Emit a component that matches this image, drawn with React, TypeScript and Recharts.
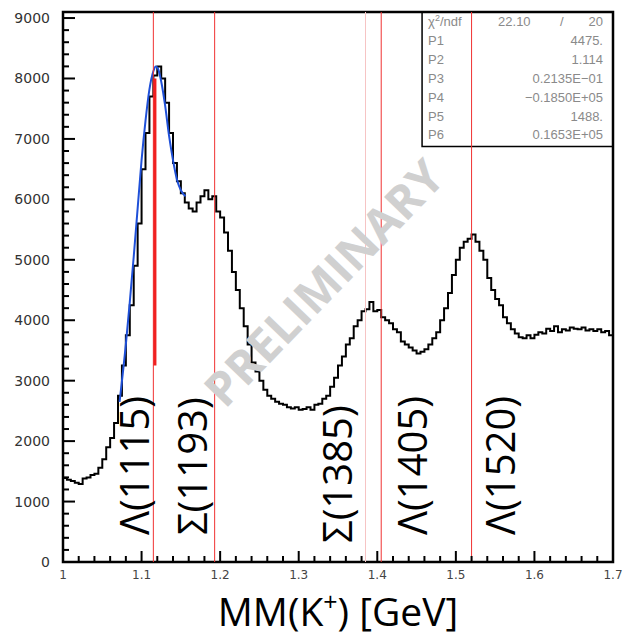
import React from "react";
import {
  ComposedChart,
  Line,
  XAxis,
  YAxis,
  ReferenceLine,
  ReferenceArea,
  ReferenceDot,
} from "recharts";

// ---------------- data ----------------
const BIN_LOW = 1.0;
const BIN_WIDTH = 0.005;
const HIST_COUNTS = [
  1390, 1360, 1340, 1310, 1290, 1380, 1400, 1440, 1460, 1560,
  1700, 1900, 2050, 2300, 2750, 3250, 3750, 4250, 4900, 5600,
  6500, 7100, 7700, 8050, 8200, 8000, 7600, 7100, 6600, 6300,
  6100, 5950, 5850, 5800, 5950, 6050, 6150, 6000, 6050, 5800,
  5700, 5450, 5150, 4800, 4500, 4200, 3900, 3600, 3300, 3150,
  3000, 2850, 2750, 2700, 2650, 2620, 2600, 2560, 2540, 2560,
  2520, 2530, 2560, 2520, 2600, 2620, 2700, 2750, 2900, 3050,
  3250, 3400, 3600, 3700, 3900, 4000, 4150, 4180, 4300, 4150,
  4170, 4050, 4000, 3950, 3850, 3800, 3650, 3600, 3550, 3500,
  3450, 3480, 3520, 3600, 3700, 3800, 4000, 4200, 4450, 4750,
  5000, 5200, 5300, 5350, 5420, 5300, 5150, 5000, 4700, 4500,
  4350, 4250, 4050, 3950, 3850, 3780, 3720, 3700, 3750, 3700,
  3760, 3800, 3780, 3860, 3820, 3900, 3800, 3850, 3830, 3880,
  3860, 3850, 3880, 3830, 3850, 3820, 3850, 3800, 3820, 3750,
];

const FIT_MASS = [1.072, 1.08, 1.085, 1.09, 1.095, 1.1, 1.105, 1.11, 1.115, 1.118, 1.121, 1.125, 1.13, 1.135, 1.14, 1.145, 1.15, 1.156];
const FIT_COUNTS = [2650, 3600, 4300, 5050, 5850, 6650, 7300, 7820, 8120, 8200, 8160, 7950, 7550, 7050, 6650, 6330, 6150, 6050];

const X_TICKS = [
  1, 1.02, 1.04, 1.06, 1.08, 1.1, 1.12, 1.14, 1.16, 1.18, 1.2, 1.22, 1.24, 1.26, 1.28,
  1.3, 1.32, 1.34, 1.36, 1.38, 1.4, 1.42, 1.44, 1.46, 1.48, 1.5, 1.52, 1.54, 1.56, 1.58,
  1.6, 1.62, 1.64, 1.66, 1.68, 1.7,
];
const X_MAJOR = [1, 1.1, 1.2, 1.3, 1.4, 1.5, 1.6, 1.7];
const X_MAJOR_LABELS = ["1", "1.1", "1.2", "1.3", "1.4", "1.5", "1.6", "1.7"];
const Y_TICKS = [
  0, 200, 400, 600, 800, 1000, 1200, 1400, 1600, 1800, 2000, 2200, 2400, 2600, 2800,
  3000, 3200, 3400, 3600, 3800, 4000, 4200, 4400, 4600, 4800, 5000, 5200, 5400, 5600, 5800,
  6000, 6200, 6400, 6600, 6800, 7000, 7200, 7400, 7600, 7800, 8000, 8200, 8400, 8600, 8800, 9000,
];
const Y_MAJOR = [0, 1000, 2000, 3000, 4000, 5000, 6000, 7000, 8000, 9000];

const RESONANCE_MASSES = [1.115, 1.193, 1.385, 1.405, 1.52];
const RESONANCE_NAMES = ["Λ(1115)", "Σ(1193)", "Σ(1385)", "Λ(1405)", "Λ(1520)"];
const PEAK_MARK_MASS = 1.117;
const PEAK_MARK_RANGE = [3250, 8000];

const STATS_NAMES = ["P1", "P2", "P3", "P4", "P5", "P6"];
const STATS_VALUES = ["4475.", "1.114", "0.2135E\u221201", "\u22120.1850E+05", "1488.", "0.1653E+05"];
const CHI2_VALUE = "22.10";
const NDF_VALUE = "20";

// ---------------- layout ----------------
const CHART_W = 626;
const CHART_H = 643;
const MARGIN = { top: 12, right: 13, bottom: 51, left: 8 };
const Y_AXIS_W = 55;
const X_AXIS_H = 30;
const PLOT_LEFT = MARGIN.left + Y_AXIS_W;
const PLOT_BOTTOM = CHART_H - MARGIN.bottom - X_AXIS_H;
const Y_MAX = 9100;
const X_MIN = 1.0;
const X_MAX = 1.7;

// label anchors (data coords) for rotated resonance names
const NAME_ANCHOR_X = [1.1095, 1.1833, 1.3678, 1.4633, 1.5753];
const NAME_ANCHOR_Y = [446, 446, 314, 446, 446];
const WATERMARK_AT = { x: 1.331, y: 4628 };
const STATS_BOX = { x1: 1.457, x2: 1.7, y1: 6876, y2: Y_MAX };

const histData = HIST_COUNTS.map((c, i) => ({ x: BIN_LOW + i * BIN_WIDTH, y: c }));
histData.push({ x: X_MAX, y: HIST_COUNTS[HIST_COUNTS.length - 1] });
const fitData = FIT_MASS.map((m, i) => ({ x: m, y: FIT_COUNTS[i] }));

const XTick = (props: any) => {
  const { x, payload } = props;
  const v = payload.value;
  const idx = X_MAJOR.findIndex((m) => Math.abs(m - v) < 1e-6);
  const major = idx >= 0;
  return (
    <g>
      <line x1={x} x2={x} y1={PLOT_BOTTOM} y2={PLOT_BOTTOM - (major ? 11 : 6)} stroke="#000" strokeWidth={2} />
      {major && (
        <text x={x} y={PLOT_BOTTOM + 17} textAnchor="middle" fontSize={12} fill="#444" fontFamily="DejaVu Sans">
          {X_MAJOR_LABELS[idx]}
        </text>
      )}
    </g>
  );
};

const YTick = (props: any) => {
  const { y, payload } = props;
  const v = payload.value;
  const major = Y_MAJOR.includes(v);
  return (
    <g>
      <line x1={PLOT_LEFT} x2={PLOT_LEFT + (major ? 12 : 6)} y1={y} y2={y} stroke="#000" strokeWidth={2} />
      {major && (
        <text x={PLOT_LEFT - 13} y={y + 5} textAnchor="end" fontSize={14} fill="#333" fontFamily="DejaVu Sans">
          {String(v)}
        </text>
      )}
    </g>
  );
};

const centerOf = (vb: any) => ({
  x: (vb?.x ?? 0) + (vb?.width ?? 0) / 2,
  y: (vb?.y ?? 0) + (vb?.height ?? 0) / 2,
});

const makeNameLabel = (name: string) => (props: any) => {
  const c = centerOf(props.viewBox);
  return (
    <text
      x={c.x}
      y={c.y}
      transform={`rotate(-90 ${c.x} ${c.y})`}
      fontSize={40}
      fontFamily="Open Sans"
      fill="#000"
      textAnchor="start"
    >
      {name}
    </text>
  );
};

const WatermarkLabel = (props: any) => {
  const c = centerOf(props.viewBox);
  return (
    <text
      x={c.x}
      y={c.y}
      transform={`rotate(-46 ${c.x} ${c.y})`}
      fontSize={47}
      fontWeight={700}
      fontFamily="Open Sans"
      fill="#d0d0d0"
      textAnchor="middle"
      dominantBaseline="central"
    >
      PRELIMINARY
    </text>
  );
};

const StatsLabel = (props: any) => {
  const vb = props.viewBox || {};
  const left = vb.x + 6;
  const right = vb.x + vb.width - 10;
  const top = vb.y;
  const row = 18.9;
  const style = { fontSize: 13, fontFamily: "Liberation Sans", fill: "#8a8a8a" } as any;
  return (
    <g>
      <text x={left} y={top + 14} {...style}>
        χ<tspan dy={-5} fontSize={9}>2</tspan>
        <tspan dy={5}>/ndf</tspan>
      </text>
      <text x={vb.x + 76} y={top + 14} {...style}>{CHI2_VALUE}</text>
      <text x={vb.x + 138} y={top + 14} {...style}>/</text>
      <text x={right} y={top + 14} textAnchor="end" {...style}>{NDF_VALUE}</text>
      {STATS_NAMES.map((n, i) => (
        <g key={n}>
          <text x={left} y={top + 14 + row * (i + 1)} {...style}>{n}</text>
          <text x={right} y={top + 14 + row * (i + 1)} textAnchor="end" {...style}>{STATS_VALUES[i]}</text>
        </g>
      ))}
    </g>
  );
};

const TitleLabel = (props: any) => {
  const vb = props.viewBox || {};
  const cx = vb.x + vb.width / 2;
  const base = vb.y + 64;
  return (
    <text x={cx} y={base} textAnchor="middle" fontSize={39} fontFamily="Open Sans" fill="#000">
      <tspan>MM(K</tspan>
      <tspan dy={-15} fontSize={25}>+</tspan>
      <tspan dy={15}>) [GeV]</tspan>
    </text>
  );
};

export default function App() {
  return (
    <div style={{ position: "fixed", left: 0, top: 0, width: CHART_W, height: CHART_H, background: "#fff" }}>
      <ComposedChart width={CHART_W} height={CHART_H} margin={MARGIN}>
        <XAxis
          dataKey="x"
          type="number"
          domain={[X_MIN, X_MAX]}
          ticks={X_TICKS}
          interval={0}
          allowDataOverflow
          axisLine={false}
          tickLine={false}
          height={X_AXIS_H}
          tick={<XTick />}
          label={{ content: TitleLabel } as any}
        />
        <YAxis
          type="number"
          domain={[0, Y_MAX]}
          ticks={Y_TICKS}
          interval={0}
          allowDataOverflow
          axisLine={false}
          tickLine={false}
          width={Y_AXIS_W}
          tick={<YTick />}
        />
        <ReferenceDot
          x={WATERMARK_AT.x}
          y={WATERMARK_AT.y}
          r={1}
          fill="none"
          stroke="none"
          label={WatermarkLabel as any}
        />
        <ReferenceArea
          x1={STATS_BOX.x1}
          x2={STATS_BOX.x2}
          y1={STATS_BOX.y1}
          y2={STATS_BOX.y2}
          fill="#fff"
          fillOpacity={1}
          stroke="#000"
          strokeWidth={1.5}
          label={StatsLabel as any}
        />
        <Line
          data={histData}
          dataKey="y"
          type="stepAfter"
          stroke="#000"
          strokeWidth={2}
          dot={false}
          isAnimationActive={false}
        />
        <Line
          data={fitData}
          dataKey="y"
          type="monotone"
          stroke="#1f50d8"
          strokeWidth={2}
          dot={false}
          isAnimationActive={false}
        />
        {RESONANCE_MASSES.map((m, i) => (
          <ReferenceLine
            key={m}
            x={m}
            stroke={i === 2 ? "#f6c4c4" : "#f03232"}
            strokeWidth={1}
          />
        ))}
        <ReferenceLine
          segment={[
            { x: PEAK_MARK_MASS, y: PEAK_MARK_RANGE[0] },
            { x: PEAK_MARK_MASS, y: PEAK_MARK_RANGE[1] },
          ]}
          stroke="#f02020"
          strokeWidth={3}
        />
        {RESONANCE_NAMES.map((n, i) => (
          <ReferenceDot
            key={n}
            x={NAME_ANCHOR_X[i]}
            y={NAME_ANCHOR_Y[i]}
            r={1}
            fill="none"
            stroke="none"
            label={makeNameLabel(n) as any}
          />
        ))}
        <ReferenceArea
          x1={X_MIN}
          x2={X_MAX}
          y1={0}
          y2={Y_MAX}
          fill="none"
          stroke="#000"
          strokeWidth={2.5}
        />
      </ComposedChart>
    </div>
  );
}
